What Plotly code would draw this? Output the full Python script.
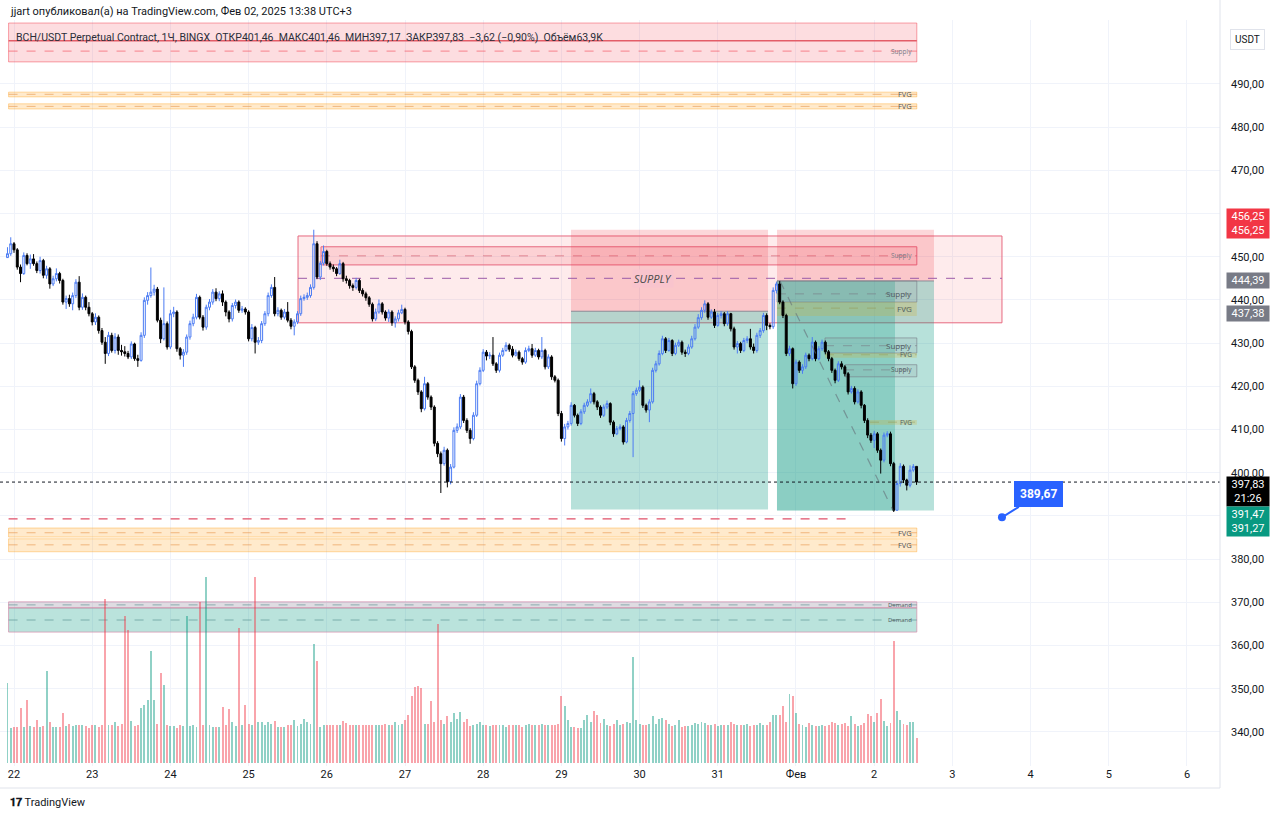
import plotly.graph_objects as go
import pandas as pd

# ---------------- data ----------------
FIRST_OPEN = 449.8
close = [450.7, 453.0, 451.6, 447.6, 446.1, 450.3, 448.4, 449.5, 448.4, 446.8,
         449.1, 445.7, 447.2, 443.7, 444.9, 446.1, 444.5, 439.5, 440.3, 439.1,
         441.0, 444.1, 438.3, 440.6, 438.3, 436.8, 434.9, 436.0, 432.9, 430.2,
         427.6, 431.8, 428.3, 431.4, 428.3, 428.0, 427.6, 426.8, 429.8, 426.4,
         426.0, 431.8, 439.9, 441.0, 441.8, 442.5, 435.3, 431.0, 434.5, 429.1,
         436.8, 437.2, 428.7, 427.2, 427.9, 431.4, 434.5, 436.0, 440.6, 436.0,
         433.7, 438.3, 439.5, 441.8, 440.3, 441.4, 439.5, 437.2, 435.6, 438.7,
         439.5, 437.6, 437.9, 437.2, 431.0, 433.6, 430.2, 430.6, 434.5, 436.8,
         441.0, 442.9, 436.8, 437.6, 436.0, 437.2, 435.3, 433.9, 434.9, 436.8,
         440.3, 440.6, 441.0, 442.9, 453.0, 445.3, 448.5, 451.2, 448.4, 447.6,
         447.2, 446.1, 448.4, 444.9, 444.5, 443.3, 442.9, 444.5, 442.2, 441.4,
         440.5, 439.0, 435.6, 437.2, 439.1, 437.2, 435.8, 437.2, 434.7, 435.6,
         437.0, 437.8, 434.9, 432.7, 424.5, 421.4, 418.7, 414.8, 420.6, 417.5,
         415.2, 406.8, 404.4, 402.1, 405.2, 397.9, 401.3, 409.8, 410.6, 417.5,
         412.1, 409.8, 407.9, 413.3, 420.6, 423.7, 427.9, 427.0, 427.2, 425.2,
         423.7, 427.2, 428.3, 429.5, 428.6, 427.2, 427.9, 426.4, 425.6, 428.3,
         428.7, 427.2, 428.3, 426.8, 428.3, 424.5, 426.8, 422.2, 421.4, 413.7,
         407.9, 410.6, 411.4, 415.6, 413.3, 411.4, 414.1, 415.6, 416.4, 418.3,
         416.4, 415.2, 413.3, 415.2, 416.0, 411.7, 409.0, 410.2, 410.6, 407.1,
         412.1, 413.7, 418.3, 419.1, 419.8, 415.6, 414.5, 416.4, 423.7, 425.2,
         427.6, 431.0, 428.3, 430.6, 427.6, 429.5, 430.2, 427.9, 427.6, 429.1,
         431.0, 433.7, 435.9, 437.6, 439.1, 436.0, 437.2, 434.1, 436.4, 436.8,
         434.5, 436.8, 433.3, 429.1, 429.9, 428.3, 430.6, 431.0, 429.1, 428.3,
         431.8, 432.9, 436.4, 434.1, 433.8, 442.2, 443.7, 439.5, 436.4, 427.6,
         428.7, 420.6, 425.6, 423.7, 424.5, 427.2, 426.4, 430.2, 426.4, 428.7,
         430.2, 428.0, 426.4, 423.7, 421.4, 425.2, 424.5, 422.9, 418.7, 419.5,
         416.4, 418.7, 415.6, 412.1, 408.7, 407.5, 409.0, 405.2, 402.9, 408.7,
         409.0, 402.1, 391.3, 397.5, 401.5, 398.3, 397.1, 400.6, 401.46, 397.83]
high = [452.2, 454.5, 453.4, 452.0, 448.2, 451.0, 450.8, 450.5, 450.6, 448.9,
        450.0, 449.5, 447.9, 447.6, 445.6, 447.3, 446.5, 444.9, 441.0, 441.2,
        441.7, 444.8, 445.5, 441.5, 441.0, 439.5, 437.2, 436.9, 436.4, 433.5,
        431.4, 432.6, 432.4, 432.3, 432.0, 429.6, 429.3, 428.2, 430.4, 430.1,
        427.3, 432.5, 440.6, 441.8, 447.5, 443.5, 443.0, 435.9, 442.9, 435.0,
        437.7, 438.4, 437.6, 429.1, 428.6, 432.0, 435.2, 436.8, 441.4, 441.0,
        436.5, 438.9, 440.2, 442.5, 442.7, 442.0, 442.2, 439.9, 437.6, 439.3,
        440.1, 439.9, 438.6, 438.3, 437.6, 434.4, 434.0, 431.4, 435.1, 437.4,
        441.7, 443.6, 445.3, 438.3, 438.0, 437.9, 439.5, 435.8, 435.5, 437.4,
        441.0, 441.3, 441.7, 443.6, 456.25, 453.6, 449.0, 452.6, 451.6, 448.9,
        448.2, 447.6, 449.3, 448.8, 445.6, 444.9, 443.8, 445.1, 444.9, 442.7,
        441.9, 440.9, 439.4, 438.0, 440.1, 439.5, 437.6, 437.8, 437.6, 436.2,
        437.7, 438.9, 438.2, 435.3, 433.1, 424.9, 421.8, 419.1, 422.2, 421.0,
        417.9, 415.6, 407.3, 404.9, 406.0, 405.6, 402.0, 410.5, 411.4, 418.2,
        418.0, 412.6, 410.3, 414.0, 421.3, 424.4, 428.6, 428.4, 427.9, 431.4,
        425.6, 427.8, 428.9, 430.2, 429.9, 429.3, 428.5, 428.3, 426.8, 429.0,
        429.4, 429.8, 428.9, 428.7, 431.4, 428.7, 427.4, 427.2, 422.6, 421.8,
        414.3, 411.3, 412.0, 416.3, 415.9, 413.7, 414.7, 416.2, 417.0, 419.5,
        418.7, 416.8, 415.6, 415.8, 416.7, 416.3, 412.1, 410.8, 411.2, 411.0,
        412.7, 414.3, 418.9, 419.7, 421.4, 420.2, 416.0, 417.0, 424.3, 425.9,
        428.3, 431.7, 431.4, 431.2, 430.9, 430.1, 430.8, 430.6, 428.5, 429.7,
        431.7, 434.4, 436.7, 438.3, 439.9, 439.5, 437.8, 437.9, 437.0, 437.4,
        437.2, 437.4, 437.0, 433.8, 430.5, 430.3, 431.2, 431.6, 433.3, 429.9,
        432.4, 433.5, 437.0, 436.9, 434.6, 442.9, 444.2, 444.39, 439.9, 436.8,
        429.4, 429.0, 426.2, 426.0, 425.1, 427.8, 427.6, 431.4, 430.6, 429.3,
        430.8, 430.6, 428.4, 426.8, 424.1, 425.8, 425.8, 424.9, 423.3, 420.1,
        420.0, 419.3, 419.1, 415.9, 412.6, 409.2, 409.7, 409.4, 405.6, 409.3,
        409.6, 409.5, 402.5, 398.2, 402.2, 401.9, 398.6, 401.7, 402.0, 401.46]
low = [450.0, 450.2, 450.9, 447.0, 444.1, 445.8, 448.0, 447.2, 447.9, 446.2,
       446.1, 445.0, 444.9, 442.6, 443.2, 444.3, 443.8, 438.9, 437.9, 438.4,
       437.6, 440.4, 437.6, 437.7, 437.6, 436.2, 434.1, 434.2, 432.2, 429.6,
       425.2, 427.0, 427.8, 427.6, 427.3, 427.1, 426.9, 426.3, 426.3, 425.9,
       424.5, 425.7, 431.2, 438.9, 440.5, 441.0, 434.8, 430.0, 430.6, 428.5,
       428.6, 436.0, 428.0, 426.2, 424.5, 427.3, 430.8, 433.9, 435.5, 435.5,
       432.9, 433.1, 437.6, 438.9, 439.7, 439.7, 438.6, 436.2, 434.8, 435.0,
       438.0, 437.0, 437.0, 436.6, 430.4, 430.4, 427.6, 429.6, 430.0, 434.0,
       436.2, 440.5, 436.2, 436.2, 435.4, 435.5, 434.8, 433.2, 431.8, 434.4,
       436.3, 439.8, 440.0, 440.5, 442.4, 444.8, 444.6, 448.0, 447.9, 447.0,
       446.5, 445.5, 445.8, 444.2, 443.8, 442.6, 442.1, 442.4, 441.6, 440.8,
       439.8, 438.4, 435.0, 435.1, 436.8, 436.6, 435.2, 434.9, 434.0, 433.6,
       435.0, 436.7, 434.3, 432.0, 424.0, 420.8, 418.0, 414.0, 414.4, 416.9,
       414.5, 406.1, 403.6, 395.3, 401.6, 396.6, 397.3, 401.0, 409.2, 410.1,
       411.5, 409.2, 406.7, 407.5, 412.9, 420.2, 423.3, 426.0, 426.3, 424.7,
       423.1, 423.2, 426.8, 428.0, 428.0, 426.7, 426.9, 425.9, 425.0, 425.2,
       427.9, 426.6, 426.8, 426.2, 426.3, 423.9, 424.0, 421.5, 420.9, 413.1,
       407.2, 406.3, 410.0, 410.9, 412.8, 410.8, 411.0, 413.6, 415.2, 416.0,
       415.8, 414.5, 412.7, 412.9, 414.7, 411.0, 408.3, 408.7, 409.8, 406.5,
       406.8, 411.6, 403.6, 417.8, 418.7, 415.0, 413.9, 411.7, 416.0, 423.2,
       424.8, 427.2, 427.7, 428.0, 427.0, 427.2, 429.1, 427.3, 426.8, 427.2,
       428.7, 430.6, 433.3, 435.4, 437.0, 435.4, 435.6, 433.5, 433.8, 435.7,
       433.9, 434.0, 432.7, 428.5, 427.6, 427.7, 427.9, 430.0, 428.5, 427.6,
       427.8, 431.2, 432.4, 433.0, 433.2, 433.3, 441.5, 439.0, 435.8, 427.0,
       427.0, 419.5, 420.1, 423.1, 422.9, 424.0, 425.8, 426.0, 425.8, 426.0,
       428.2, 427.4, 425.8, 423.1, 420.7, 421.0, 423.9, 422.3, 418.1, 418.3,
       415.8, 416.0, 414.9, 411.5, 408.0, 406.9, 405.7, 404.6, 399.8, 402.4,
       408.2, 401.5, 390.9, 391.3, 396.8, 397.6, 395.9, 396.6, 400.2, 397.17]
volume_k = [205, 90, 92, 92, 140, 92, 160, 95, 92, 110,
            92, 94, 235, 105, 92, 92, 92, 128, 95, 100,
            94, 96, 96, 96, 94, 90, 96, 96, 92, 96,
            420, 96, 96, 105, 94, 100, 375, 340, 108, 94,
            96, 140, 148, 160, 285, 160, 100, 230, 200, 96,
            94, 94, 88, 96, 94, 375, 94, 96, 92, 410,
            96, 475, 96, 92, 92, 92, 143, 96, 138, 104,
            95, 345, 96, 148, 100, 96, 475, 104, 105, 96,
            104, 100, 107, 92, 92, 92, 96, 96, 110, 94,
            100, 112, 104, 100, 305, 260, 92, 96, 96, 98,
            98, 96, 98, 108, 102, 96, 98, 96, 96, 98,
            96, 98, 96, 96, 98, 96, 100, 96, 96, 104,
            96, 100, 110, 123, 170, 195, 197, 192, 100, 100,
            158, 104, 355, 110, 100, 120, 104, 128, 112, 130,
            104, 112, 94, 96, 100, 104, 96, 96, 94, 96,
            96, 98, 96, 92, 96, 98, 96, 96, 92, 96,
            100, 96, 96, 98, 100, 96, 98, 96, 98, 100,
            170, 146, 110, 92, 92, 90, 90, 110, 123, 104,
            133, 123, 102, 112, 96, 94, 100, 110, 96, 100,
            105, 102, 270, 110, 100, 96, 98, 100, 120, 100,
            112, 115, 110, 100, 95, 96, 110, 92, 94, 95,
            96, 102, 100, 104, 102, 98, 96, 100, 94, 96,
            96, 98, 104, 100, 98, 96, 96, 100, 94, 96,
            96, 102, 98, 96, 104, 123, 123, 123, 146, 105,
            177, 171, 128, 100, 96, 92, 102, 96, 94, 94,
            96, 94, 98, 104, 102, 96, 100, 102, 94, 120,
            100, 94, 96, 102, 125, 120, 104, 128, 164, 107,
            94, 102, 312, 133, 110, 100, 98, 104, 104, 64]

day_ticks = pd.date_range("2025-01-22", "2025-02-06", freq="D")
day_labels = ["22", "23", "24", "25", "26", "27", "28", "29", "30", "31",
              "Фев", "2", "3", "4", "5", "6"]
price_ticks = [340, 350, 360, 370, 380, 390, 400, 410, 420, 430, 440, 450, 460, 470, 480, 490]
hidden_ticks = [390, 460]          # covered by the price tags in the reference
price_labels = ["" if v in hidden_ticks else f"{v},00" for v in price_ticks]

# drawn zones (prices / times)
Z_START, Z_END = "2025-01-21 22:20", "2025-02-02 13:05"
LABEL_X = "2025-02-02 12:20"
TOP_SUPPLY = (495.1, 504.1, 500.0, 497.6)
FVG_TOP = [(487.0, 488.1, 487.6), (484.2, 485.4, 484.8)]
BIG_SUPPLY = ("2025-01-25 15:10", "2025-02-03 15:13", 434.7, 454.8, 445.0)
INNER_SUPPLY = ("2025-01-25 22:13", 448.1, 452.3, 450.2)
POS1 = ("2025-01-29 02:57", "2025-01-31 15:25", 437.38, 456.25, 391.47)
POS2 = ("2025-01-31 18:10", "2025-02-02 18:21", 444.39, 456.25, 391.27, "2025-02-02 06:23")
POS2_PATH = ("2025-01-31 19:05", 444.39, "2025-02-02 05:46", 391.3)
SMALL_SUPPLY = [("2025-01-31 18:10", 439.5, 444.4, 441.4, "Supply", 8),
                ("2025-02-01 08:54", 427.7, 431.2, 429.4, "Supply", 8),
                ("2025-02-01 15:03", 422.2, 425.0, 423.8, "Supply", 6.5)]
SMALL_FVG = [("2025-01-31 18:10", 436.3, 439.5, 438.1),
             ("2025-02-01 08:54", 426.6, 427.7, 427.3),
             ("2025-02-01 22:43", 411.1, 412.2, 411.7)]
RED_DASH = (389.3, "2025-02-01 15:15")
FVG_BOTTOM = [(385.1, 387.2, 386.1), (381.7, 384.7, 383.3)]
DEMAND = [(368.7, 370.1, 369.4), (363.1, 368.7, 365.9)]
LAST_PRICE = 397.83
CALLOUT = ("2025-02-03 15:13", 389.67)

# ---------------- figure ----------------
times = pd.date_range("2025-01-21 22:00", periods=len(close), freq="h")
opens = [FIRST_OPEN] + close[:-1]
vol_colors = ["rgba(242,54,69,0.45)" if c < o else "rgba(8,153,129,0.45)"
              for o, c in zip(opens, close)]

fig = go.Figure()
fig.add_trace(go.Bar(x=times, y=volume_k, yaxis="y2", marker_color=vol_colors,
                     marker_line_width=0, width=3600000 * 0.6, hoverinfo="skip"))
fig.add_trace(go.Candlestick(
    x=times, open=opens, high=high, low=low, close=close,
    increasing=dict(line=dict(color="#4c7cf3", width=1), fillcolor="rgba(255,255,255,0)"),
    decreasing=dict(line=dict(color="#000000", width=1), fillcolor="#000000"),
    whiskerwidth=0))

shapes = []
annos = []
ZL = "between"


def rect(x0, x1, y0, y1, fill, line="rgba(0,0,0,0)", lw=1):
    shapes.append(dict(type="rect", xref="x", yref="y", x0=x0, x1=x1, y0=y0, y1=y1,
                       fillcolor=fill, line=dict(color=line, width=lw), layer=ZL))


def hline(x0, x1, y, color, dash="solid", lw=1, layer=ZL):
    shapes.append(dict(type="line", xref="x", yref="y", x0=x0, x1=x1, y0=y, y1=y,
                       line=dict(color=color, width=lw, dash=dash), layer=layer))


def zlabel(y, text, size=7.5, color="#787b86"):
    annos.append(dict(x=LABEL_X, y=y, xref="x", yref="y", text=text, showarrow=False,
                      xanchor="right", yanchor="middle", font=dict(size=size, color=color)))


# top supply
rect(Z_START, Z_END, TOP_SUPPLY[0], TOP_SUPPLY[1], "rgba(242,54,69,0.17)", "rgba(242,54,69,0.45)")
hline(Z_START, Z_END, TOP_SUPPLY[2], "#e35d68", lw=1.5)
hline(Z_START, Z_END, TOP_SUPPLY[3], "rgba(242,54,69,0.55)", dash="dash")
zlabel(TOP_SUPPLY[3], "Supply", 6.5)
# top FVGs
for lo, hi, mid in FVG_TOP:
    rect(Z_START, Z_END, lo, hi, "rgba(255,152,0,0.2)", "rgba(255,152,0,0.35)")
    hline(Z_START, Z_END, mid, "rgba(230,140,60,0.55)", dash="dash")
    zlabel(mid, "FVG", 7.5, "#555")
# big supply box
bx0, bx1, blo, bhi, bmid = BIG_SUPPLY
rect(bx0, bx1, blo, bhi, "rgba(242,54,69,0.10)", "#e6687f")
ix0, ilo, ihi, imid = INNER_SUPPLY
rect(ix0, Z_END, ilo, ihi, "rgba(242,54,69,0.14)", "#e6687f")
hline(ix0, Z_END, imid, "rgba(200,60,80,0.5)", dash="dash")
zlabel(imid, "Supply", 6.5)
# position 1
p0, p1, entry, stop, target = POS1
rect(p0, p1, entry, stop, "rgba(242,54,69,0.2)")
rect(p0, p1, target, entry, "rgba(8,153,129,0.29)")
hline(p0, p1, entry, "rgba(120,123,134,0.8)")
# position 2
q0, q1, entry2, stop2, target2, qfill = POS2
rect(q0, q1, entry2, stop2, "rgba(242,54,69,0.2)")
rect(q0, q1, target2, entry2, "rgba(8,153,129,0.29)")
rect(q0, qfill, target2, entry2, "rgba(8,153,129,0.25)")
hline(q0, q1, entry2, "rgba(120,123,134,0.8)")
# dashed line SUPPLY
hline(bx0, bx1, bmid, "#9c5ba8", dash="dash", lw=1)
annos.append(dict(x="2025-01-30 04:00", y=bmid, xref="x", yref="y", text="<i>SUPPLY</i>",
                  showarrow=False, font=dict(size=11, color="#4a4a4a"), bgcolor="#f9c4cd"))
# small zones inside position 2
for x0, lo, hi, mid, txt, fs in SMALL_SUPPLY:
    rect(x0, Z_END, lo, hi, "rgba(120,123,134,0.12)", "rgba(120,123,134,0.6)")
    hline(x0, Z_END, mid, "rgba(120,123,134,0.6)", dash="dash")
    zlabel(mid, txt, fs, "#4f5a60")
for x0, lo, hi, mid in SMALL_FVG:
    rect(x0, Z_END, lo, hi, "rgba(205,180,60,0.28)")
    hline(x0, Z_END, mid, "rgba(150,140,60,0.4)", dash="dash")
    zlabel(mid, "FVG", 8 if hi - lo > 2 else 6.5, "#4f5a60")
shapes.append(dict(type="line", xref="x", yref="y", x0=POS2_PATH[0], y0=POS2_PATH[1],
                   x1=POS2_PATH[2], y1=POS2_PATH[3],
                   line=dict(color="rgba(100,110,120,0.6)", width=1.2, dash="dash"), layer="above"))
# bottom zones
hline(Z_START, RED_DASH[1], RED_DASH[0], "#e0506a", dash="dash", lw=1.2)
for lo, hi, mid in FVG_BOTTOM:
    rect(Z_START, Z_END, lo, hi, "rgba(255,152,0,0.2)", "rgba(255,152,0,0.35)")
    hline(Z_START, Z_END, mid, "rgba(230,140,60,0.55)", dash="dash")
    zlabel(mid, "FVG", 7.5, "#555")
rect(Z_START, Z_END, DEMAND[0][0], DEMAND[0][1], "rgba(150,140,160,0.3)", "rgba(210,140,170,0.7)")
rect(Z_START, Z_END, DEMAND[1][0], DEMAND[1][1], "rgba(8,153,129,0.28)", "rgba(210,140,170,0.7)")
for lo, hi, mid in DEMAND:
    hline(Z_START, Z_END, mid, "rgba(80,140,140,0.6)", dash="dash")
    zlabel(mid, "Demand", 6, "#4f5a60")
# last price dotted line
shapes.append(dict(type="line", xref="paper", yref="y", x0=0, x1=1, y0=LAST_PRICE, y1=LAST_PRICE,
                   line=dict(color="#131722", width=1, dash="dot"), layer="above"))
# frame lines
PLOT_TOP, PLOT_BOT, PLOT_W = 20, 766, 1220


def py(p):
    return (PLOT_BOT - p) / (PLOT_BOT - PLOT_TOP)


def px(p):
    return p / PLOT_W


shapes.append(dict(type="line", xref="paper", yref="paper", x0=0, x1=1, y0=py(788), y1=py(788),
                   line=dict(color="#e0e3eb", width=1)))
shapes.append(dict(type="line", xref="paper", yref="paper", x0=1, x1=1, y0=py(788), y1=py(0),
                   line=dict(color="#e0e3eb", width=1)))


# right-axis price tags
def tag(y, text, bg, fc="white"):
    annos.append(dict(x=1, xref="paper", y=y, yref="y", text=text, showarrow=False,
                      xanchor="left", yanchor="middle", xshift=6, bgcolor=bg,
                      font=dict(size=11, color=fc, family="Roboto"),
                      width=40, borderpad=1, align="center"))


tag(457.8, "456,25<br>456,25", "#f23645")
tag(444.39, "444,39", "#787b86")
tag(436.9, "437,38", "#787b86")
tag(395.6, "397,83<br>21:26", "#000000")
tag(388.8, "391,47<br>391,27", "#089981")
annos.append(dict(x=px(1247), y=py(39), xref="paper", yref="paper", text="USDT", showarrow=False,
                  xanchor="center", yanchor="middle",
                  bgcolor="white", bordercolor="#e0e3eb", borderwidth=1, borderpad=4,
                  font=dict(size=10, color="#131722", family="Roboto")))
# callout
annos.append(dict(x=CALLOUT[0], y=CALLOUT[1], xref="x", yref="y", text="<b>389,67</b>",
                  showarrow=True, ax=37, ay=-23, arrowhead=6, arrowsize=1, arrowwidth=2,
                  arrowcolor="#2962ff", bgcolor="#2962ff", bordercolor="#2962ff", borderpad=5,
                  font=dict(size=12, color="white", family="Roboto")))
# texts
annos.append(dict(x=px(8), y=py(12), xref="paper", yref="paper", xanchor="left", yanchor="middle",
                  showarrow=False, text="jjart опубликовал(а) на TradingView.com, Фев 02, 2025 13:38 UTC+3",
                  font=dict(size=11, color="#131722", family="Roboto")))
annos.append(dict(x=px(14), y=py(37), xref="paper", yref="paper", xanchor="left", yanchor="middle",
                  showarrow=False,
                  text="BCH/USDT Perpetual Contract, 1Ч, BINGX  ОТКР401,46  МАКС401,46  МИН397,17  ЗАКР397,83  −3,62 (−0,90%)  Объём63,9K",
                  font=dict(size=10.5, color="#2a2e39", family="Roboto")))
annos.append(dict(x=px(8), y=py(803), xref="paper", yref="paper", xanchor="left", yanchor="middle",
                  showarrow=False, text="<b>𝟏𝟕</b> TradingView",
                  font=dict(size=11, color="#131722", family="Roboto")))

fig.update_layout(
    width=1280, height=819, margin=dict(l=0, r=60, t=20, b=53),
    plot_bgcolor="white", paper_bgcolor="white", showlegend=False,
    shapes=shapes, annotations=annos, bargap=0, boxgap=0.15,
    xaxis=dict(type="date", range=["2025-01-21 19:42", "2025-02-06 10:08"],
               tickvals=day_ticks, ticktext=day_labels, showgrid=True, gridcolor="#f0f3fa",
               zeroline=False, showline=False, ticks="", rangeslider=dict(visible=False),
               tickfont=dict(size=11, color="#131722", family="Roboto")),
    yaxis=dict(side="right", range=[332.1, 504.8], tickvals=price_ticks, ticktext=price_labels,
               showgrid=True, gridcolor="#f0f3fa", zeroline=False, showline=False, ticks="",
               ticklabelstandoff=10, tickfont=dict(size=11, color="#131722", family="Roboto")),
    yaxis2=dict(overlaying="y", range=[-8, 1899], visible=False, fixedrange=True),
)

fig.write_html("out.html")
